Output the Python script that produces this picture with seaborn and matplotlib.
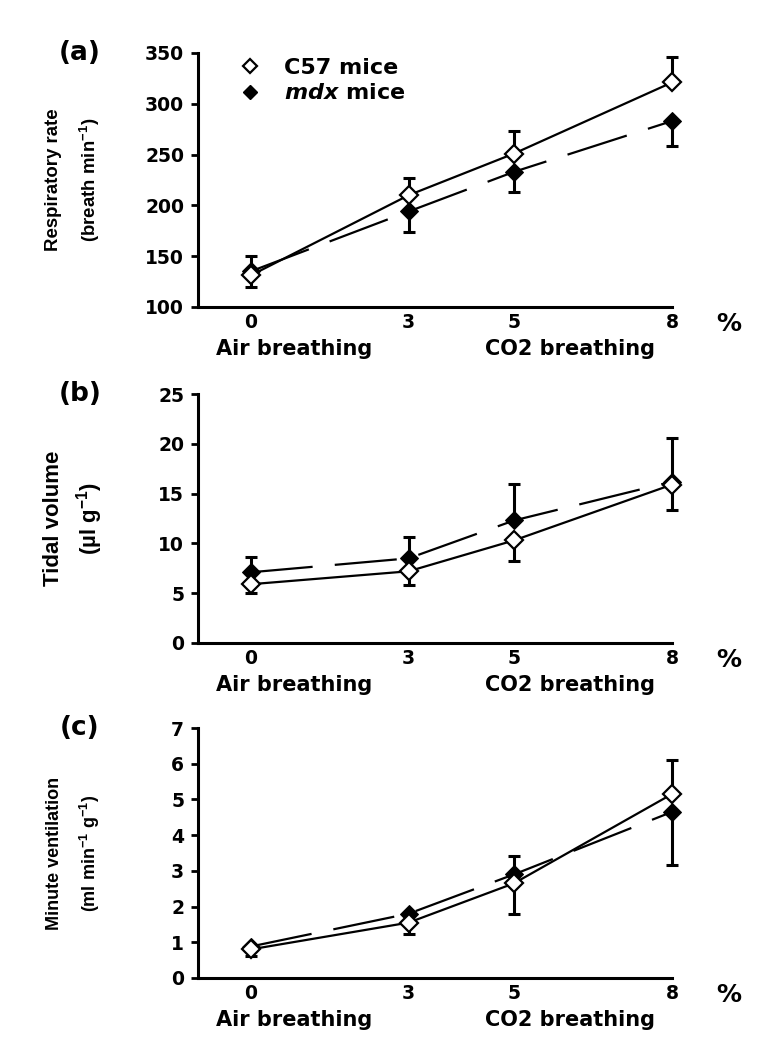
import numpy as np
import pandas as pd
import seaborn as sns
import matplotlib.pyplot as plt
from matplotlib.lines import Line2D

# CO2 concentration (%)
co2 = [0, 3, 5, 8]
xtick_labels = ["0", "3", "5", "8"]

# (a) respiratory rate
rr_c57 = [131, 210, 251, 321]
rr_c57_lo = [11, 0, 0, 0]
rr_c57_hi = [0, 17, 22, 25]
rr_mdx = [135, 194, 233, 283]
rr_mdx_lo = [0, 20, 20, 25]
rr_mdx_hi = [15, 0, 0, 0]

# (b) tidal volume
tv_c57 = [5.9, 7.2, 10.3, 15.9]
tv_c57_lo = [0.9, 1.4, 2.1, 2.5]
tv_c57_hi = [0, 0, 0, 0]
tv_mdx = [7.1, 8.5, 12.3, 16.2]
tv_mdx_lo = [0, 0, 0, 0]
tv_mdx_hi = [1.5, 2.1, 3.7, 4.4]

# (c) minute ventilation
mv_c57 = [0.80, 1.55, 2.65, 5.15]
mv_c57_lo = [0.18, 0.33, 0.87, 0]
mv_c57_hi = [0, 0, 0, 0.95]
mv_mdx = [0.88, 1.80, 2.90, 4.65]
mv_mdx_lo = [0, 0, 0, 1.5]
mv_mdx_hi = [0, 0, 0.52, 0]

sns.set_style("ticks")
plt.rcParams['font.family'] = ['DejaVu Sans']
plt.rcParams['font.weight'] = 'bold'
for key in ['text.color', 'axes.labelcolor', 'xtick.color', 'ytick.color', 'axes.edgecolor']:
    plt.rcParams[key] = 'black'
plt.rcParams['mathtext.fontset'] = 'custom'
plt.rcParams['mathtext.rm'] = 'Liberation Sans:bold'
plt.rcParams['mathtext.bf'] = 'Liberation Sans:bold'
plt.rcParams['mathtext.it'] = 'DejaVu Sans:italic:bold'
plt.rcParams['mathtext.bfit'] = 'DejaVu Sans:italic:bold'

panels = [
    dict(letter="(a)", c57=rr_c57, c57_err=[rr_c57_lo, rr_c57_hi],
         mdx=rr_mdx, mdx_err=[rr_mdx_lo, rr_mdx_hi],
         ylim=(100, 350), yticks=np.arange(100, 351, 50),
         ylabel="Respiratory rate\n(breath min$^{\\mathbf{-1}}$)", ylsize=13.4, yls=1.8,
         rect=[0.2548, 0.7104, 0.610, 0.2396]),
    dict(letter="(b)", c57=tv_c57, c57_err=[tv_c57_lo, tv_c57_hi],
         mdx=tv_mdx, mdx_err=[tv_mdx_lo, tv_mdx_hi],
         ylim=(0, 25), yticks=np.arange(0, 26, 5),
         ylabel="Tidal volume\n(\u00b5l g$^{\\mathbf{-1}}$)", ylsize=16, yls=1.45,
         rect=[0.2548, 0.3934, 0.610, 0.2349]),
    dict(letter="(c)", c57=mv_c57, c57_err=[mv_c57_lo, mv_c57_hi],
         mdx=mv_mdx, mdx_err=[mv_mdx_lo, mv_mdx_hi],
         ylim=(0, 7), yticks=np.arange(0, 8, 1),
         ylabel="Minute ventilation\n(ml min$^{\\mathbf{-1}}$ g$^{\\mathbf{-1}}$)", ylsize=13, yls=1.85,
         rect=[0.2548, 0.0774, 0.610, 0.2358]),
]

fig = plt.figure(figsize=(7.77, 10.6), dpi=100)

for i, p in enumerate(panels):
    ax = fig.add_axes(p['rect'])
    df = pd.DataFrame({'co2': co2, 'c57': p['c57'], 'mdx': p['mdx']})

    # error bars (one-sided, drawn under the markers)
    ax.errorbar(co2, p['c57'], yerr=p['c57_err'], fmt='none', ecolor='k',
                elinewidth=2.2, capsize=4.5, capthick=2.2, zorder=2, clip_on=False)
    ax.errorbar(co2, p['mdx'], yerr=p['mdx_err'], fmt='none', ecolor='k',
                elinewidth=2.2, capsize=4.5, capthick=2.2, zorder=2, clip_on=False)

    sns.lineplot(data=df, x='co2', y='mdx', ax=ax, color='k', lw=1.6,
                 linestyle=(0, (28, 10)), marker='D', ms=9, mfc='k', mec='k',
                 errorbar=None, zorder=3, clip_on=False)
    sns.lineplot(data=df, x='co2', y='c57', ax=ax, color='k', lw=1.6,
                 marker='D', ms=9, mfc='white', mec='k', mew=1.6,
                 errorbar=None, zorder=4, clip_on=False)

    ax.set_xlim(-1, 8)
    ax.set_ylim(*p['ylim'])
    ax.set_yticks(p['yticks'])
    ax.set_xticks(co2)
    ax.set_xticklabels(xtick_labels)
    ax.set_xlabel("")
    ax.set_ylabel("")
    sns.despine(ax=ax)
    for s in ['left', 'bottom']:
        ax.spines[s].set_linewidth(2.2)
        ax.spines[s].set_color('k')
    ax.tick_params(axis='y', length=5, width=2, pad=5, labelsize=13.5, colors='k')
    ax.tick_params(axis='x', length=0, pad=4, labelsize=13.5, colors='k')
    for t in ax.get_xticklabels() + ax.get_yticklabels():
        t.set_fontweight('bold')

    ax.text(1.12, -0.068, "%", transform=ax.transAxes, fontsize=18,
            fontweight='bold', ha='center', va='center')
    ax.annotate("Air breathing", xy=(0.83, 0), xycoords=('data', 'axes fraction'),
                xytext=(0, -30), textcoords='offset points', ha='center',
                va='center', fontsize=15, fontweight='bold')
    ax.annotate("CO2 breathing", xy=(6.07, 0), xycoords=('data', 'axes fraction'),
                xytext=(0, -30), textcoords='offset points', ha='center',
                va='center', fontsize=15, fontweight='bold')

    ax.text(-0.262, 0.5, p['ylabel'], transform=ax.transAxes, rotation=90,
            ha='center', va='center', multialignment='center',
            fontsize=p['ylsize'], fontweight='bold', linespacing=p['yls'],
            family=['Liberation Sans', 'DejaVu Sans'])
    ax.text(-0.249, 1.0, p['letter'], transform=ax.transAxes, fontsize=19,
            fontweight='bold', ha='center', va='center')

    if i == 0:
        handles = [
            Line2D([], [], ls='none', marker='D', ms=7, mfc='white', mec='k', mew=1.6),
            Line2D([], [], ls='none', marker='D', ms=7, mfc='k', mec='k'),
        ]
        ax.legend(handles, ["C57 mice", "$\\mathbfit{mdx}$ mice"], loc='upper left',
                  bbox_to_anchor=(0.045, 1.06), frameon=False, handlelength=1,
                  handletextpad=1.0, labelspacing=0.25,
                  prop={'size': 16, 'weight': 'bold'})

fig.savefig("out.png", dpi=100)
